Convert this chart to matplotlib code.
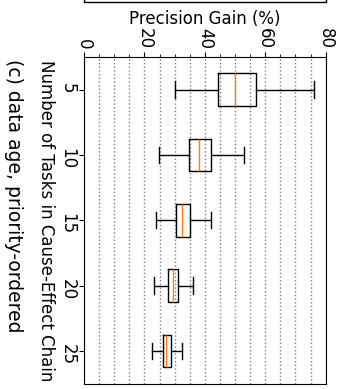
import matplotlib
matplotlib.use("Agg")
import matplotlib.pyplot as plt
from matplotlib.lines import Line2D
from matplotlib.ticker import MultipleLocator

# chain lengths and box statistics (precision gain, %)
chain_lengths = [5, 10, 15, 20, 25]
whisker_low = [30.0, 24.8, 23.9, 23.1, 22.4]
quart_low = [44.2, 34.8, 30.3, 27.9, 26.1]
medians = [49.9, 37.9, 32.4, 29.4, 27.3]
quart_high = [56.9, 42.0, 35.0, 31.2, 28.7]
whisker_high = [76.0, 52.8, 41.9, 36.1, 32.3]

W, H = 341, 389
fig = plt.figure(figsize=(W / 100, H / 100), dpi=100)
ax = fig.add_axes([84 / W, 1 - 383.5 / H, (325.7 - 84) / W, (383.5 - 57) / H])

stats = []
for n, lo, q1, m, q3, hi in zip(chain_lengths, whisker_low, quart_low, medians, quart_high, whisker_high):
    stats.append({"label": str(n), "whislo": lo, "q1": q1, "med": m, "q3": q3, "whishi": hi, "fliers": []})

ax.bxp(stats, positions=range(1, len(stats) + 1), orientation="horizontal", showfliers=False)

ax.set_xlim(0, 80)
ax.set_ylim(len(stats) + 0.5, 0.5)
ax.xaxis.set_major_locator(MultipleLocator(20))
ax.xaxis.set_minor_locator(MultipleLocator(5))
ax.xaxis.tick_top()
ax.xaxis.set_label_position("top")
ax.grid(True, axis="x", which="both", linestyle=":", color="gray", linewidth=1)
ax.set_axisbelow(True)

ax.tick_params(axis="x", labelsize=12, labelrotation=-90, pad=2)
ax.tick_params(axis="y", labelsize=12, labelrotation=-90, pad=2)
ax.set_xlabel("Precision Gain (%)", fontsize=12, labelpad=3)
ax.set_ylabel("Number of Tasks in Cause-Effect Chain", fontsize=12, rotation=-90, va="center")
ax.yaxis.set_label_coords(-(84 - 46) / 241.7, 0.5)

fig.text(13 / W, 1 - 196 / H, "(c) data age, priority-ordered", rotation=-90,
         fontsize=13.5, ha="center", va="center")

# bottom edge of the neighbouring panel above
fig.add_artist(Line2D([84 / W, 84 / W, 325.7 / W, 325.7 / W],
                      [1.02, 1 - 1.5 / H, 1 - 1.5 / H, 1.02],
                      transform=fig.transFigure, color="black", lw=1, clip_on=False))

fig.savefig("out.png", dpi=100)
